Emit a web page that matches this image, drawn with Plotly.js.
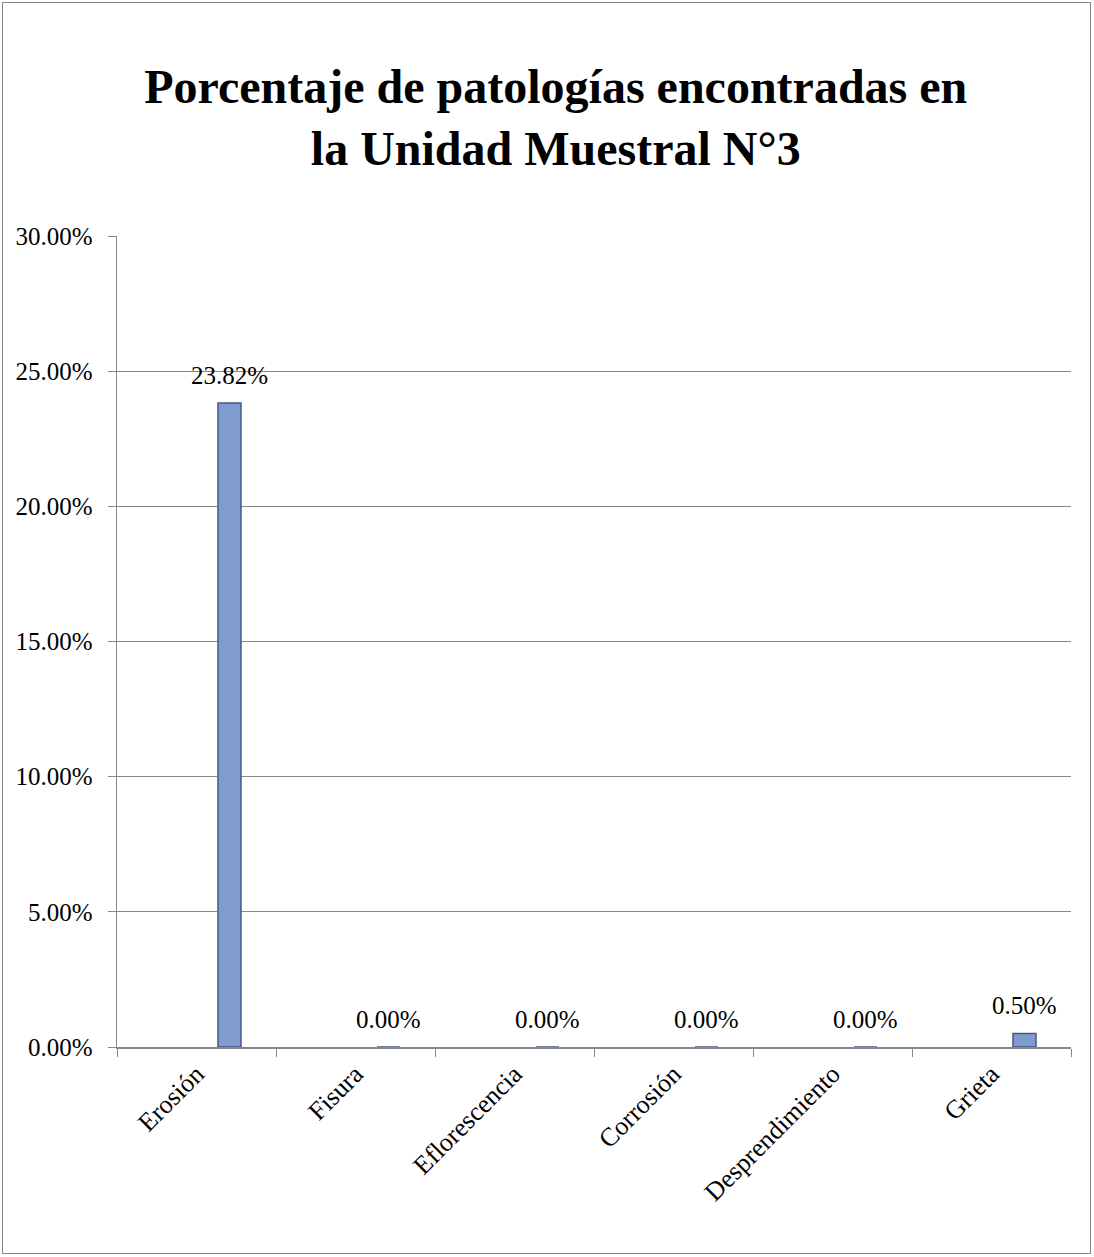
<!DOCTYPE html>
<html>
<head>
<meta charset="utf-8">
<script src="https://cdn.plot.ly/plotly-3.0.1.min.js"></script>
<style>
  html, body { margin: 0; padding: 0; background: #fff; }
  #frame { position: absolute; left: 2px; top: 2px; width: 1089px; height: 1252px; border: 1px solid #888; box-sizing: border-box; pointer-events: none; z-index: 5; }
  #chart { position: absolute; left: 0; top: 0; width: 1094px; height: 1257px; }
</style>
</head>
<body>
<div id="chart"></div>
<div id="frame"></div>
<script>
const categories = ["Erosión", "Fisura", "Eflorescencia", "Corrosión", "Desprendimiento", "Grieta"];
const values = [0.2382, 0.0, 0.0, 0.0, 0.0, 0.005];
const valueLabels = ["23.82%", "0.00%", "0.00%", "0.00%", "0.00%", "0.50%"];
const yTickVals = [0, 0.05, 0.10, 0.15, 0.20, 0.25, 0.30];
const yTickText = ["0.00%", "5.00%", "10.00%", "15.00%", "20.00%", "25.00%", "30.00%"];

const serif = "Liberation Serif, Times New Roman, serif";

const trace = {
  type: "bar",
  x: categories,
  y: values,
  width: 0.145,
  offset: 0.135,
  marker: {
    color: "rgb(128,155,206)",
    line: { color: "rgb(70,90,135)", width: 1.5 }
  },
  hoverinfo: "none"
};

const annotations = categories.map((c, i) => ({
  x: c,
  y: values[i],
  xref: "x",
  yref: "y",
  text: valueLabels[i],
  showarrow: false,
  xanchor: "center",
  yanchor: "bottom",
  xshift: 33,
  yshift: 12,
  font: { family: serif, size: 25, color: "#000" }
}));

const layout = {
  width: 1094,
  height: 1257,
  margin: { l: 117, r: 23, t: 236, b: 210 },
  paper_bgcolor: "#fff",
  plot_bgcolor: "#fff",
  showlegend: false,
  annotations: annotations,
  title: {
    text: "<b>Porcentaje de patologías encontradas en<br>la Unidad Muestral N°3</b>",
    font: { family: serif, size: 48, color: "#000" },
    x: 0.508,
    xanchor: "center",
    y: 0.918,
    yanchor: "top"
  },
  xaxis: {
    type: "category",
    tickson: "boundaries",
    ticks: "outside",
    ticklen: 8,
    tickcolor: "#888",
    tickangle: -45,
    showline: true,
    linecolor: "#888",
    linewidth: 1.5,
    showgrid: false,
    tickfont: { family: serif, size: 26, color: "#000" },
    range: [-0.5, 5.5]
  },
  yaxis: {
    range: [0, 0.30],
    tickvals: yTickVals,
    ticktext: yTickText,
    ticks: "outside",
    ticklen: 8,
    tickcolor: "#888",
    showline: true,
    linecolor: "#888",
    linewidth: 1.5,
    showgrid: true,
    gridcolor: "#888",
    gridwidth: 1,
    zeroline: false,
    tickfont: { family: serif, size: 25, color: "#000" },
    ticklabelstandoff: 10
  }
};

Plotly.newPlot("chart", [trace], layout, { displayModeBar: false, staticPlot: true });
</script>
</body>
</html>
